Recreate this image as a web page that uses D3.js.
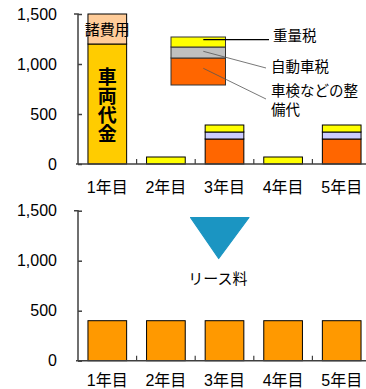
<!DOCTYPE html>
<html><head><meta charset="utf-8">
<script src="https://cdn.jsdelivr.net/npm/d3@7"></script>
<style>
html,body{margin:0;padding:0;background:#fff;}
svg{display:block;font-family:"Liberation Sans","Noto Sans CJK JP",sans-serif;}
</style></head>
<body>
<svg id="c" width="366" height="389"></svg>
<script>
const categories = ["1年目","2年目","3年目","4年目","5年目"];
const vehiclePrice = [1200,0,0,0,0];
const otherFees = [300,0,0,0,0];
const maintenance = [0,0,250,0,250];
const autoTax = [0,0,70,0,70];
const weightTax = [0,70,70,70,70];
const leaseFee = [400,400,400,400,400];
const yTicks = [0,500,1000,1500];
// legend sample stack (values on top chart scale)
const legendNames = ["車検などの整備代","自動車税","重量税"];
const legendStack = [[790,1060],[1060,1170],[1170,1270]];

const svg = d3.select("#c");
const x = d3.scaleBand().domain(categories).range([78, 78+5*58.6]).paddingInner(0.34).paddingOuter(0.17);

function drawAxes(y, y0, labOff){
  const g = svg.append("g").attr("transform","translate(78,0)")
    .call(d3.axisLeft(y).tickValues(yTicks).tickFormat(d3.format(",")).tickSize(-4).tickPadding(21));
  g.select(".domain").attr("stroke","#404040").attr("stroke-width",1.5).attr("d",`M-4,${y(1500)}H0V${y0}`);
  g.selectAll(".tick line").attr("stroke","#404040").attr("stroke-width",1.5);
  g.selectAll(".tick text").attr("font-size",16).attr("fill","#000").attr("font-family","Liberation Sans, Arial, sans-serif");
  // x axis
  svg.append("line").attr("x1",76).attr("x2",372).attr("y1",y0).attr("y2",y0)
    .attr("stroke","#404040").attr("stroke-width",1.5);
  categories.forEach((c,i)=>{
    if(i>0){
      const bx = x(c) - x.step()*x.paddingOuter();
      svg.append("line").attr("x1",bx).attr("x2",bx).attr("y1",y0).attr("y2",y0-5)
        .attr("stroke","#404040").attr("stroke-width",1.2);
    }
    svg.append("text").attr("x",x(c)+x.bandwidth()/2).attr("y",y0+labOff)
      .attr("text-anchor","middle").attr("font-size",16).attr("fill","#000").text(c);
  });
}

// ---- top chart
const yT = d3.scaleLinear().domain([0,1500]).range([164,14]);
const series = [
  {vals: vehiclePrice, color:"#FFCC00"},
  {vals: otherFees, color:"#FFCC99"},
  {vals: maintenance, color:"#FF6600"},
  {vals: autoTax, color:"#CCCCFF"},
  {vals: weightTax, color:"#FFFF00"}
];
categories.forEach((c,i)=>{
  let base = 0;
  series.forEach(s=>{
    const v = s.vals[i];
    if(v>0){
      svg.append("rect").attr("x",x(c)).attr("width",x.bandwidth())
        .attr("y",yT(base+v)).attr("height",yT(base)-yT(base+v))
        .attr("fill",s.color).attr("stroke","#000").attr("stroke-width",1);
      base += v;
    }
  });
});
drawAxes(yT, 164, 29);

// labels inside first bar
const c0 = x(categories[0]) + x.bandwidth()/2;
svg.append("text").attr("x",c0).attr("y",(yT(1200)+yT(1500))/2+5.5).attr("text-anchor","middle")
  .attr("font-size",15).attr("fill","#000").text("諸費用");
"車両代金".split("").forEach((ch,k)=>{
  svg.append("text").attr("x",c0).attr("y",84+k*19).attr("text-anchor","middle")
    .attr("font-size",19).attr("font-weight","bold").attr("fill","#000").text(ch);
});

// legend stack
const legColors = ["#FF6600","#C0C0C0","#FFFF00"];
const lx0 = 171, lx1 = 225.5;
legendStack.forEach((r,k)=>{
  svg.append("rect").attr("x",lx0).attr("width",lx1-lx0).attr("y",yT(r[1])).attr("height",yT(r[0])-yT(r[1]))
    .attr("fill",legColors[k]).attr("stroke","#333").attr("stroke-width",1);
});
// leader lines
const lead = [
  {from:[203.3,68.3], to:[266,99]},
  {from:[203.3,51.3], to:[266,68]},
  {from:[203.3,39.7], to:[269,39.7]}
];
lead.forEach((l,k)=>{
  svg.append("line").attr("x1",l.from[0]).attr("y1",l.from[1]).attr("x2",l.to[0]).attr("y2",l.to[1])
    .attr("stroke", k===2?"#000":"#555").attr("stroke-width",k===2?1.2:0.8);
});
svg.append("text").attr("x",273).attr("y",41).attr("font-size",14.5).attr("fill","#000").text("重量税");
svg.append("text").attr("x",271).attr("y",72).attr("font-size",14.5).attr("fill","#000").text("自動車税");
svg.append("text").attr("x",271).attr("y",96).attr("font-size",14.5).attr("fill","#000").text("車検などの整");
svg.append("text").attr("x",271).attr("y",115).attr("font-size",14.5).attr("fill","#000").text("備代");

// ---- bottom chart
const yB = d3.scaleLinear().domain([0,1500]).range([360.7,210.7]);
categories.forEach((c,i)=>{
  svg.append("rect").attr("x",x(c)).attr("width",x.bandwidth())
    .attr("y",yB(leaseFee[i])).attr("height",yB(0)-yB(leaseFee[i]))
    .attr("fill","#FF9900").attr("stroke","#000").attr("stroke-width",1);
});
drawAxes(yB, 360.7, 25.5);

// arrow triangle
svg.append("path").attr("d","M190.5,217.5L249,217.5L218.7,258.5Z").attr("fill","#1B95C2")
  .attr("stroke","#1B95C2").attr("stroke-width",1.2).attr("stroke-linejoin","round");
svg.append("text").attr("x",218).attr("y",284).attr("text-anchor","middle").attr("font-size",15)
  .attr("fill","#000").text("リース料");
</script>
</body></html>
